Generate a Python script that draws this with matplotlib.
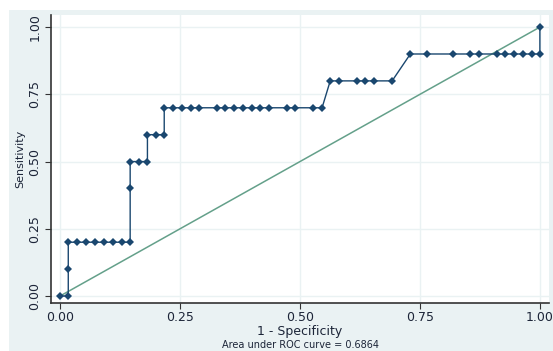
"""ROC curve, Stata-style look."""

import matplotlib

matplotlib.use("Agg")
import matplotlib.pyplot as plt
from matplotlib.patches import Rectangle

# 1 - specificity / sensitivity pairs
fpr = [0.0, 0.017, 0.017, 0.017, 0.036, 0.054, 0.073, 0.092, 0.110, 0.128, 0.146,
       0.146, 0.146, 0.164, 0.182, 0.182, 0.199, 0.217, 0.217, 0.236, 0.254, 0.272,
       0.290, 0.326, 0.344, 0.363, 0.381, 0.399, 0.417, 0.436, 0.472, 0.490, 0.528,
       0.546, 0.563, 0.581, 0.618, 0.636, 0.654, 0.692, 0.730, 0.765, 0.819, 0.854,
       0.874, 0.910, 0.928, 0.947, 0.965, 0.983, 1.0, 1.0]
tpr = [0.0, 0.0, 0.1, 0.2, 0.2, 0.2, 0.2, 0.2, 0.2, 0.2, 0.2,
       0.4, 0.5, 0.5, 0.5, 0.6, 0.6, 0.6, 0.7, 0.7, 0.7, 0.7,
       0.7, 0.7, 0.7, 0.7, 0.7, 0.7, 0.7, 0.7, 0.7, 0.7, 0.7,
       0.7, 0.8, 0.8, 0.8, 0.8, 0.8, 0.8, 0.9, 0.9, 0.9, 0.9,
       0.9, 0.9, 0.9, 0.9, 0.9, 0.9, 0.9, 1.0]
ref_line = [0.0, 1.0]
ticks = [0.0, 0.25, 0.5, 0.75, 1.0]
tick_labels = ["0.00", "0.25", "0.50", "0.75", "1.00"]
auc_note = "Area under ROC curve = 0.6864"

NAVY = "#1a476f"
GREEN = "#64a08a"
REGION = "#eaf2f3"
TEXT = "#1c2538"

fig = plt.figure(figsize=(5.53, 3.51), dpi=100)
fig.patches.append(Rectangle((9 / 553, 0), 1, 341 / 351, transform=fig.transFigure,
                             facecolor=REGION, edgecolor="none", zorder=-1))

ax = fig.add_axes([51 / 553, 48 / 351, 498 / 553, 288 / 351])
ax.set_facecolor("white")
ax.set_xlim(-0.019, 1.019)
ax.set_ylim(-0.026, 1.045)

ax.plot(ref_line, ref_line, color=GREEN, linewidth=1.1, zorder=2)
ax.plot(fpr, tpr, color=NAVY, linewidth=1.0, marker="D", markersize=3.8,
        markeredgewidth=0, zorder=3)

ax.set_xticks(ticks)
ax.set_xticklabels(tick_labels)
ax.set_yticks(ticks)
ax.set_yticklabels(tick_labels, rotation=90, va="center")
ax.tick_params(axis="both", direction="out", length=4, width=0.8, color="#333333",
               labelsize=9, labelcolor=TEXT)
ax.tick_params(axis="x", pad=2)
ax.tick_params(axis="y", pad=3)
ax.grid(True, color=REGION, linewidth=1.0)
ax.set_axisbelow(True)

for side in ("top", "right"):
    ax.spines[side].set_visible(False)
for side in ("left", "bottom"):
    ax.spines[side].set_color("#333333")
    ax.spines[side].set_linewidth(1.2)

ax.set_ylabel("Sensitivity", fontsize=8, color=TEXT, labelpad=2)
fig.text(300 / 553, 1 - 332 / 351, "1 - Specificity", fontsize=9, color=TEXT,
         ha="center", va="center")
fig.text(300 / 553, 1 - 345 / 351, auc_note, fontsize=7, color=TEXT,
         ha="center", va="center")

fig.savefig("out.png", dpi=100)
